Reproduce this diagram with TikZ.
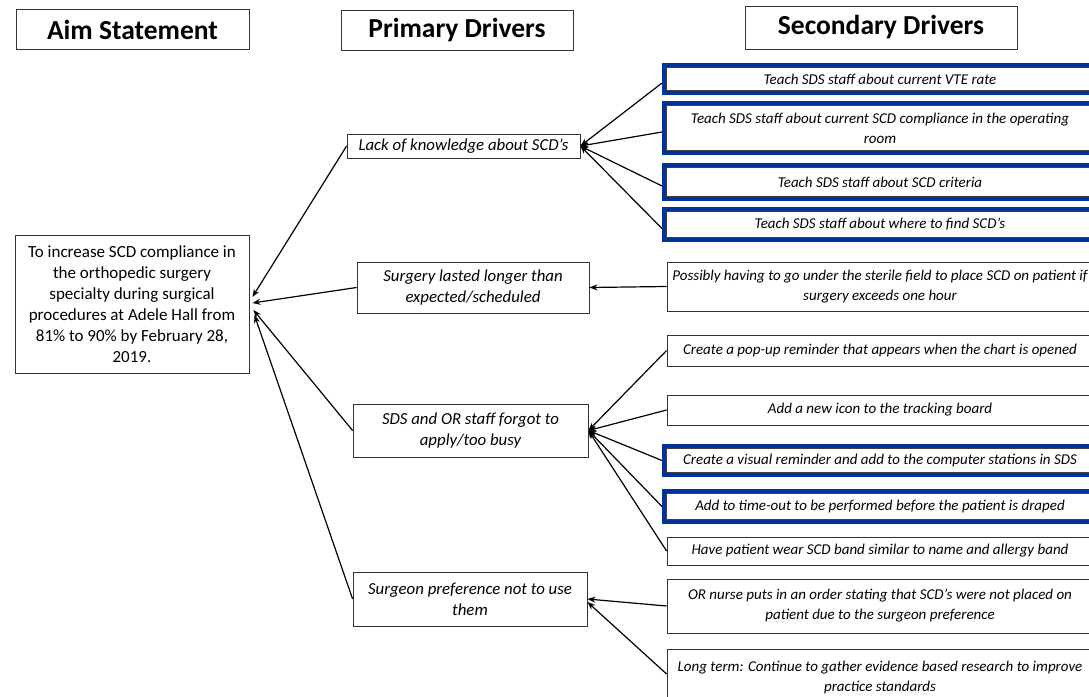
\documentclass[tikz,border=0pt]{standalone}
\usepackage{fontspec}
\setmainfont{Carlito}
\usetikzlibrary{arrows.meta}
\definecolor{sdblue}{RGB}{0,51,153}
\begin{document}
\begin{tikzpicture}[x=1pt,y=-1pt,
 hdr/.style={draw=black!80, line width=0.8pt, font=\bfseries\fontsize{27.5}{30}\selectfont, inner sep=0pt, minimum height=40pt},
 prim/.style={draw=black!80, line width=0.8pt, font=\itshape\fontsize{16.8}{21}\selectfont, align=center, inner sep=0pt, minimum width=233pt},
 sec/.style={draw=black!80, line width=0.8pt, font=\itshape\fontsize{15}{20}\selectfont, align=center, inner sep=0pt, minimum width=426pt},
 secb/.style={sec, draw=sdblue, line width=4pt, minimum width=432pt,
   path picture={\draw[black!75,line width=0.8pt] ([shift={(2.3pt,-2.3pt)}]path picture bounding box.north west) rectangle ([shift={(-2.3pt,2.3pt)}]path picture bounding box.south east);}},
 arr/.style={-{Stealth[length=8pt,width=6pt]}, line width=1.2pt}
]
\useasboundingbox (0,0) rectangle (1089,696);
\clip (0,0) rectangle (1089,696);
\fill[white] (0,0) rectangle (1089,696);

% headers
\node[hdr, minimum width=233pt] (aimh) at (132.5,29.5) {Aim Statement};
\node[hdr, minimum width=232pt] (primh) at (457,30) {Primary Drivers};
\node[hdr, minimum width=272pt, minimum height=43pt] (sech) at (881,27.5) {Secondary Drivers};

% aim
\node[draw=black!80, line width=0.8pt, font=\fontsize{17}{21}\selectfont, align=center, inner sep=0pt, minimum width=234pt, minimum height=138pt] (aim) at (132,304)
 {To increase SCD compliance in\\the orthopedic surgery\\specialty during surgical\\procedures at Adele Hall from\\81\% to 90\% by February 28,\\2019.};

% primary
\node[prim, minimum height=24pt] (lack) at (463.5,146) {Lack of knowledge about SCD’s};
\node[prim, minimum width=232pt, minimum height=51pt] (surg) at (473,287.5) {Surgery lasted longer than\\expected/scheduled};
\node[prim, minimum width=235pt, minimum height=53pt] (sds) at (470.5,430.5) {SDS and OR staff forgot to\\apply/too busy};
\node[prim, minimum width=234pt, minimum height=54pt] (pref) at (470,599) {Surgeon preference not to use\\them};

% secondary
\node[secb, minimum height=28pt] (vte) at (880,79) {Teach SDS staff about current VTE rate};
\node[secb, minimum height=50pt] (comp) at (880,128) {Teach SDS staff about current SCD compliance in the operating\\room};
\node[secb, minimum height=34pt] (crit) at (880,182) {Teach SDS staff about SCD criteria};
\node[secb, minimum height=31pt] (where) at (880,224.5) {Teach SDS staff about where to find SCD’s};
\node[sec, minimum height=49pt] (poss) at (880,286.5) {Possibly having to go under the sterile field to place SCD on patient if\\surgery exceeds one hour};
\node[sec, minimum height=31pt] (popup) at (880,350.5) {Create a pop-up reminder that appears when the chart is opened};
\node[sec, minimum height=30pt] (icon) at (880,410) {Add a new icon to the tracking board};
\node[secb, minimum height=29pt] (visual) at (880,460.5) {Create a visual reminder and add to the computer stations in SDS};
\node[secb, minimum height=31pt] (tout) at (880,506.5) {Add to time-out to be performed before the patient is draped};
\node[sec, minimum height=28pt] (band) at (880,551) {Have patient wear SCD band similar to name and allergy band};
\node[sec, minimum height=54pt] (nurse) at (880,606) {OR nurse puts in an order stating that SCD’s were not placed on\\patient due to the surgeon preference};
\node[sec, minimum height=56pt] (long) at (880,677) {Long term: Continue to gather evidence based research to improve\\practice standards};

% connectors secondary -> primary
\foreach \s in {vte,comp,crit,where} \draw[arr] ([yshift=-4pt]\s.west) -- (lack.east);
\draw[arr] (poss.west) -- (surg.east);
\draw[arr] (popup.west) -- (sds.east);
\draw[arr] (icon.west) -- (sds.east);
\draw[arr] (visual.west) -- (sds.east);
\draw[arr] (tout.west) -- (sds.east);
\draw[arr] (band.west) -- (sds.east);
\draw[arr] (nurse.west) -- (pref.east);
\draw[arr] ([yshift=3pt]long.west) -- ([yshift=-3pt]pref.east);

% primary -> aim
\draw[arr] (lack.west) -- ([shift={(3pt,7pt)}]aim.east);
\draw[arr] (surg.west) -- ([shift={(3pt,1pt)}]aim.east);
\draw[arr] (sds.west) -- ([shift={(4pt,-6pt)}]aim.east);
\draw[arr] (pref.west) -- ([shift={(5pt,-11pt)}]aim.east);
\end{tikzpicture}
\end{document}
